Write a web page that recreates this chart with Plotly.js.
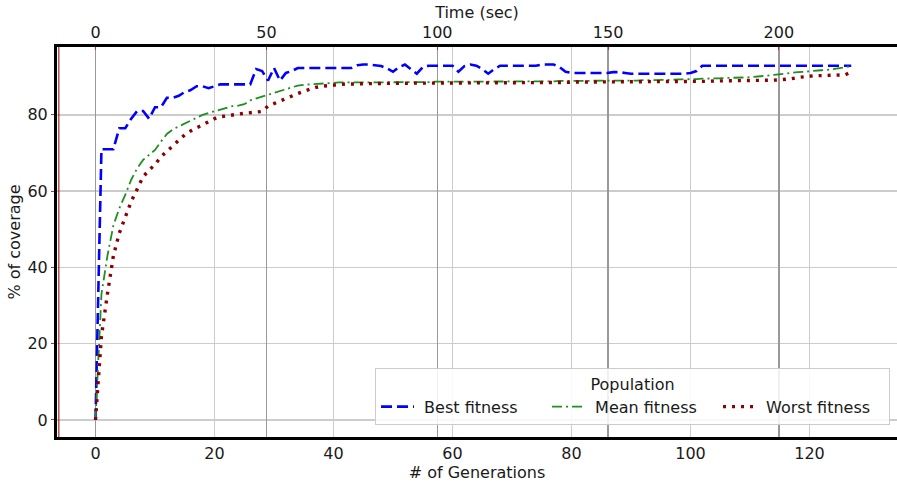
<!DOCTYPE html>
<html>
<head>
<meta charset="utf-8">
<script src="https://cdn.plot.ly/plotly-3.0.1.min.js"></script>
<style>html,body{margin:0;padding:0;background:#fff;}#chart{width:897px;height:484px;}</style>
</head>
<body>
<div id="chart"></div>
<script>
// Generation index (x axis, bottom)
var generations = [
  0,1,2,3,4,5,6,7,8,9,10,11,12,13,14,15,16,17,18,19,
  20,21,22,23,24,25,26,27,28,29,30,31,32,33,34,35,36,37,38,39,
  40,41,42,43,44,45,46,47,48,49,50,51,52,53,54,55,56,57,58,59,
  60,61,62,63,64,65,66,67,68,69,70,71,72,73,74,75,76,77,78,79,
  80,81,82,83,84,85,86,87,88,89,90,91,92,93,94,95,96,97,98,99,
  100,101,102,103,104,105,106,107,108,109,110,111,112,113,114,115,116,117,118,119,
  120,121,122,123,124,125,126,127
];

// % of coverage – best individual
var bestFitness = [
  0,71,71,71,76.5,76.5,79,81,81,79,
  82,82,84.5,84.5,85,86,86.5,87.5,87.5,87,
  87.5,88,88,88,88,88,88,92,91.5,89,
  92.3,89,91,91.5,92.3,92.3,92.3,92.3,92.3,92.3,
  92.3,92.3,92.3,92.3,93,93.2,93.2,93,92.8,92.2,
  91.3,92.5,93.2,92,90.8,92.5,92.9,92.9,92.9,92.9,
  92.9,91.3,92.8,93.2,92.9,92,90.8,92,92.9,92.9,
  92.9,92.9,92.9,92.9,92.9,93.2,93.2,93.2,92.5,91.3,
  91,91,91,91,91,91,91,91.2,91.2,91,
  90.8,90.8,90.8,90.8,90.8,90.8,90.8,90.8,90.8,90.8,
  91,91.5,92.9,92.9,92.9,92.9,92.9,92.9,92.9,92.9,
  92.9,92.9,92.9,92.9,92.9,92.9,92.9,92.9,92.9,92.9,
  92.9,92.9,92.9,92.9,92.9,92.9,92.9,92.9
];

// % of coverage – population mean
var meanFitness = [
  0,33,43,51,55.5,59,63,66,68.2,69.5,
  70.8,73,75,76.2,77,77.8,78.5,79.3,80,80.5,
  81,81.5,82,82.3,82.4,82.8,83.8,84.3,84.8,85.2,
  85.6,86.1,86.7,87.2,87.7,87.9,88,88.2,88.3,88.4,
  88.5,88.5,88.5,88.5,88.5,88.6,88.6,88.6,88.6,88.6,
  88.6,88.6,88.6,88.6,88.6,88.6,88.6,88.7,88.7,88.7,
  88.7,88.7,88.7,88.7,88.7,88.7,88.7,88.8,88.8,88.8,
  88.8,88.8,88.8,88.8,88.8,88.8,88.8,88.8,88.9,88.9,
  88.9,88.9,88.9,88.9,88.9,88.9,88.9,89,89,89,
  89,89,89.1,89.1,89.1,89.2,89.2,89.2,89.3,89.3,
  89.4,89.4,89.5,89.5,89.6,89.6,89.7,89.7,89.8,89.8,
  89.9,90,90.1,90.3,90.5,90.7,90.9,91.1,91.2,91.3,
  91.5,91.6,91.7,91.8,92,92.2,92.5,92.8
];

// % of coverage – worst individual
var worstFitness = [
  0,22,33,43,49,53.3,57.3,60.5,63.8,65.5,
  67,69,70.5,72,73.5,74.8,75.8,76.6,77.4,78.2,
  79,79.5,79.8,80,80.2,80.4,80.5,80.7,80.9,82.3,
  83,83.6,84.2,85,85.6,86.2,86.8,87.2,87.5,87.7,
  87.9,88,88.1,88.1,88.2,88.2,88.2,88.2,88.3,88.3,
  88.3,88.3,88.3,88.3,88.3,88.3,88.3,88.3,88.4,88.4,
  88.4,88.4,88.4,88.4,88.4,88.4,88.4,88.5,88.5,88.5,
  88.5,88.5,88.5,88.5,88.5,88.5,88.5,88.5,88.5,88.5,
  88.6,88.6,88.6,88.6,88.6,88.6,88.6,88.6,88.6,88.6,
  88.6,88.6,88.7,88.7,88.7,88.7,88.7,88.7,88.7,88.7,
  88.8,88.8,88.8,88.8,88.9,88.9,88.9,88.9,89,89,
  89,89,89,89,89.1,89.2,89.3,89.5,89.8,90,
  90.2,90.3,90.3,90.4,90.4,90.5,90.5,91.3
];

// Elapsed time (top axis) spanned by the run
var timeSpan = [0, 222];
var timeTicks = [0, 50, 100, 150, 200];
var genTicks = [0, 20, 40, 60, 80, 100, 120];
var coverageTicks = [0, 20, 40, 60, 80];
var seriesNames = ['Best fitness', 'Mean fitness', 'Worst fitness'];

var FONT = 'DejaVu Sans, sans-serif';
var PAD = '\u00a0';

var traces = [
  {x: generations, y: bestFitness, type: 'scatter', mode: 'lines', name: PAD + seriesNames[0],
   line: {color: '#0000ff', width: 2.6, dash: '11px,5px'}},
  {x: generations, y: meanFitness, type: 'scatter', mode: 'lines', name: PAD + seriesNames[1],
   line: {color: '#1f8f1f', width: 1.8, dash: '10px,4px,2px,4px'}},
  {x: generations, y: worstFitness, type: 'scatter', mode: 'lines', name: PAD + seriesNames[2],
   line: {color: '#8b0000', width: 3.4, dash: '3px,6px'}},
  {x: timeSpan, y: [0, 0], xaxis: 'x2', yaxis: 'y', type: 'scatter', mode: 'lines',
   line: {width: 0, color: 'rgba(0,0,0,0)'}, showlegend: false, hoverinfo: 'skip'}
];

var layout = {
  width: 897, height: 484,
  margin: {l: 57, r: 0, t: 47, b: 47},
  paper_bgcolor: '#ffffff', plot_bgcolor: '#ffffff',
  font: {family: FONT, size: 16, color: '#1a1a1a'},
  showlegend: true,
  xaxis: {
    range: [-6.47, 134.7], tickvals: genTicks, ticktext: genTicks.map(String),
    showgrid: true, gridcolor: '#cccccc', gridwidth: 1.4, zeroline: false,
    showline: true, linecolor: '#000000', linewidth: 3,
    ticks: '', tickfont: {size: 16},
    title: {text: '# of Generations', font: {size: 16}, standoff: 4},
    automargin: false
  },
  xaxis2: {
    overlaying: 'x', side: 'top', anchor: 'y',
    range: [-11.33, 234.6], tickvals: timeTicks, ticktext: timeTicks.map(String),
    showgrid: true, gridcolor: '#999999', gridwidth: 1.4, zeroline: false,
    showline: true, linecolor: '#000000', linewidth: 3,
    ticks: 'inside', ticklen: 3, tickcolor: '#d62728', tickwidth: 1, tickfont: {size: 16},
    title: {text: 'Time (sec)', font: {size: 16}, standoff: 0},
    automargin: false
  },
  yaxis: {
    range: [-4.46, 97.8], tickvals: coverageTicks, ticktext: coverageTicks.map(String),
    showgrid: true, gridcolor: '#cccccc', gridwidth: 1.4, zeroline: false,
    showline: true, linecolor: '#000000', linewidth: 3,
    ticks: 'outside', ticklen: 3, tickcolor: '#d62728', tickwidth: 1, tickfont: {size: 16},
    title: {text: '% of coverage', font: {size: 16}, standoff: 3},
    automargin: false
  },
  legend: {
    orientation: 'h', x: 0.3786, xanchor: 'left', y: 0.177, yanchor: 'top',
    bgcolor: 'rgba(255,255,255,0.85)', bordercolor: '#cccccc', borderwidth: 1,
    font: {size: 16, family: FONT, color: '#1a1a1a'},
    title: {text: 'Population', side: 'top center', font: {size: 16}},
    itemwidth: 33, entrywidth: 123, entrywidthmode: 'pixels'
  },
  shapes: [
    {type: 'line', xref: 'paper', yref: 'paper', x0: 0.0022, x1: 0.0022, y0: 0, y1: 1,
     line: {color: '#8b0000', width: 1}}
  ]
};

Plotly.newPlot('chart', traces, layout, {staticPlot: true, displayModeBar: false});
</script>
</body>
</html>
